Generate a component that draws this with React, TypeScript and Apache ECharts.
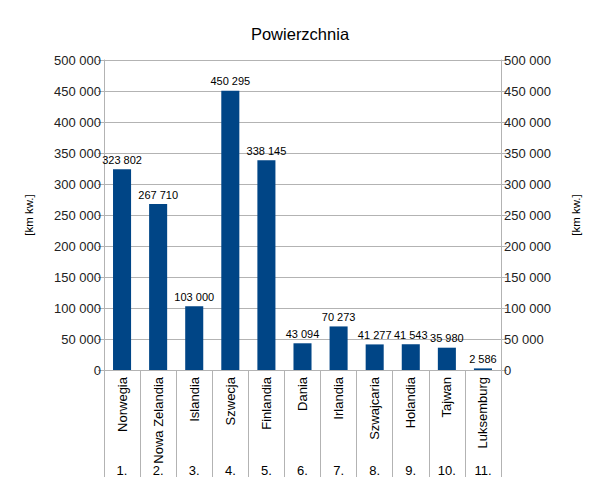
import React, { useEffect, useRef } from "react";
import * as echarts from "echarts";

const categories = [
  "Norwegia",
  "Nowa Zelandia",
  "Islandia",
  "Szwecja",
  "Finlandia",
  "Dania",
  "Irlandia",
  "Szwajcaria",
  "Holandia",
  "Tajwan",
  "Luksemburg",
];
const ranks = ["1.", "2.", "3.", "4.", "5.", "6.", "7.", "8.", "9.", "10.", "11."];
const areaValues = [323802, 267710, 103000, 450295, 338145, 43094, 70273, 41277, 41543, 35980, 2586];
const titleText = "Powierzchnia";
const unitName = "[km kw.]";

const fmt = (v: number) => String(v).replace(/\B(?=(\d{3})+(?!\d))/g, " ");

const FONT = "Liberation Sans";
const GRAY = "#b3b3b3";

export default function App() {
  const ref = useRef<HTMLDivElement>(null);
  useEffect(() => {
    if (!ref.current) return;
    const chart = echarts.init(ref.current, undefined, { renderer: "svg" });
    const yAxisBase = (pos: "left" | "right") => ({
      type: "value",
      position: pos,
      min: 0,
      max: 500000,
      interval: 50000,
      name: unitName,
      nameLocation: "middle",
      nameRotate: 90,
      nameGap: 69,
      nameTextStyle: { fontFamily: FONT, fontSize: 11.5, color: "#000" },
      axisLine: { show: true, lineStyle: { color: GRAY, width: 1 } },
      axisTick: { show: true, length: 6, lineStyle: { color: GRAY } },
      axisLabel: {
        fontFamily: FONT,
        fontSize: 13,
        color: "#222",
        margin: 3,
        formatter: (v: number) => fmt(v),
      },
      splitLine: { show: pos === "left", lineStyle: { color: GRAY, width: 1 } },
    });
    chart.setOption({
      animation: false,
      backgroundColor: "#fff",
      title: {
        text: titleText,
        left: "center",
        top: 20,
        textStyle: { fontFamily: FONT, fontSize: 16.5, fontWeight: "normal", color: "#000" },
      },
      grid: { left: 104, right: 99, top: 60, bottom: 120, containLabel: false },
      xAxis: [
        {
          type: "category",
          data: categories,
          position: "bottom",
          axisLine: { show: true, lineStyle: { color: GRAY } },
          axisTick: { show: true, length: 107, alignWithLabel: false, lineStyle: { color: GRAY } },
          axisLabel: {
            interval: 0,
            rotate: 90,
            margin: 7,
            fontFamily: FONT,
            fontSize: 13,
            color: "#000",
          },
          splitLine: { show: false },
        },
        {
          type: "category",
          data: ranks,
          position: "bottom",
          offset: 92,
          axisLine: { show: false },
          axisTick: { show: false },
          axisLabel: {
            interval: 0,
            margin: 2,
            fontFamily: FONT,
            fontSize: 13,
            color: "#000",
          },
          splitLine: { show: false },
        },
      ],
      yAxis: [yAxisBase("left"), yAxisBase("right")],
      series: [
        {
          type: "bar",
          data: areaValues,
          xAxisIndex: 0,
          yAxisIndex: 0,
          barWidth: "50%",
          itemStyle: { color: "#004586" },
          label: {
            show: true,
            position: "top",
            distance: 4,
            fontFamily: FONT,
            fontSize: 11,
            color: "#000",
            formatter: (p: any) => fmt(p.value),
          },
        },
      ],
    });
    return () => chart.dispose();
  }, []);
  return (
    <div
      ref={ref}
      style={{ position: "fixed", left: 0, top: 0, width: 600, height: 490, background: "#fff" }}
    />
  );
}
